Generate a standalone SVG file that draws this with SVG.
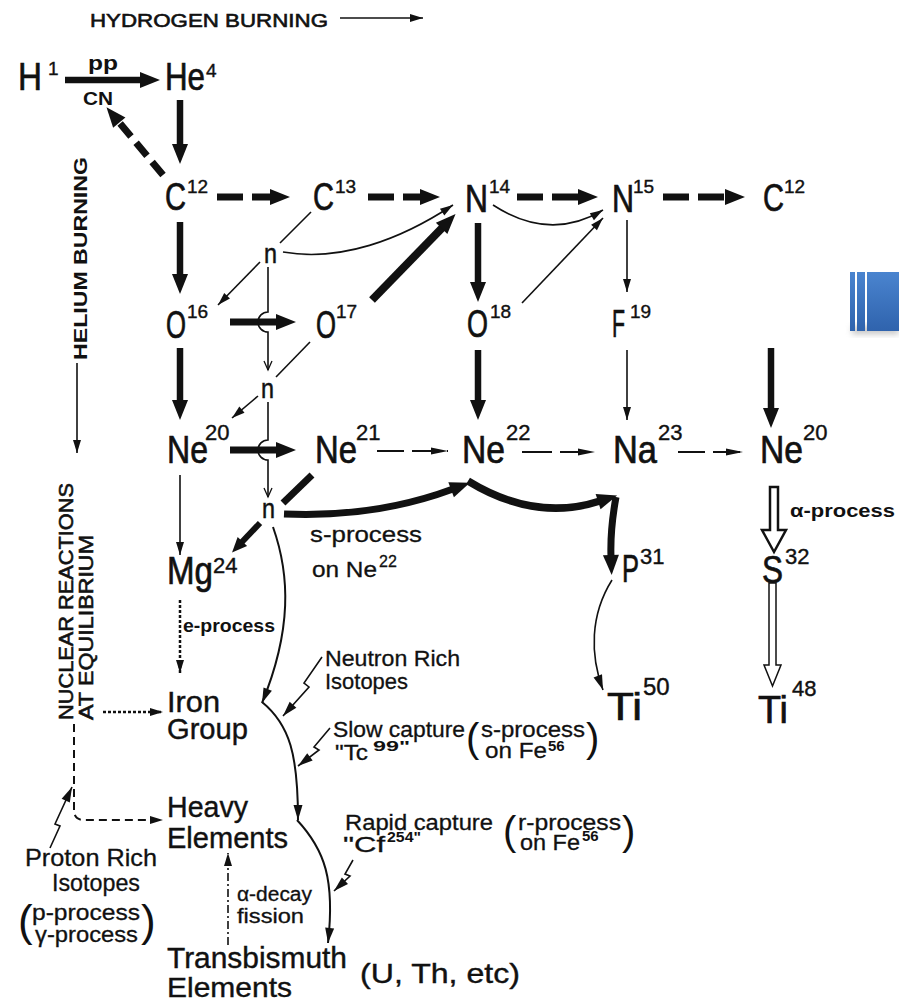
<svg xmlns="http://www.w3.org/2000/svg" width="899" height="1003" viewBox="0 0 899 1003">
<style>
text{font-family:"Liberation Sans","DejaVu Sans",Arial,sans-serif;fill:#111}
.el{font-size:38px;stroke:#111;stroke-width:0.7}
.sup{font-size:19px;stroke:#111;stroke-width:0.4}
.sup2{font-size:22px;stroke:#111;stroke-width:0.4}
.nn{font-size:27px;stroke:#111;stroke-width:0.5}
.cap{font-size:19px;font-weight:bold}
.lab{font-size:22px;stroke:#111;stroke-width:0.3}
.big{font-size:29px;stroke:#111;stroke-width:0.4}
.sm{font-size:15px;font-weight:bold}
.par{font-size:40px}
.thk{fill:none;stroke:#111;stroke-width:6.5}
.thn{fill:none;stroke:#111;stroke-width:1.6}
.md{fill:none;stroke:#111;stroke-width:2}
.dsh{fill:none;stroke:#111;stroke-width:7;stroke-dasharray:26 9}
.dthn{fill:none;stroke:#111;stroke-width:1.8;stroke-dasharray:27 8}
.hol{fill:#fff;stroke:#111;stroke-linejoin:miter}
</style>
<defs>
<marker id="aT" markerUnits="userSpaceOnUse" markerWidth="20" markerHeight="16" refX="2" refY="8" orient="auto" overflow="visible"><path d="M0,0 L20,8 L0,16 z" fill="#111"/></marker>
<marker id="aM" markerUnits="userSpaceOnUse" markerWidth="15" markerHeight="13" refX="2" refY="6.5" orient="auto" overflow="visible"><path d="M0,0 L15,6.5 L0,13 z" fill="#111"/></marker>
<marker id="aS" markerUnits="userSpaceOnUse" markerWidth="13" markerHeight="8" refX="13" refY="4" orient="auto" overflow="visible"><path d="M0,0 L13,4 L0,8 z" fill="#111"/></marker>
<marker id="aD" markerUnits="userSpaceOnUse" markerWidth="17" markerHeight="7" refX="17" refY="3.5" orient="auto" overflow="visible"><path d="M0,0 L17,3.5 L0,7 z" fill="#111"/></marker>
<marker id="aC" markerUnits="userSpaceOnUse" markerWidth="15" markerHeight="9" refX="15" refY="4.5" orient="auto" overflow="visible"><path d="M0,0 L15,4.5 L0,9 z" fill="#111"/></marker>
<marker id="aO" markerUnits="userSpaceOnUse" markerWidth="10" markerHeight="9" refX="9" refY="4.5" orient="auto" overflow="visible"><path d="M0,0.5 L9,4.5 L0,8.5" fill="none" stroke="#111" stroke-width="1.3"/></marker>
<linearGradient id="bg" x1="0" y1="0" x2="0" y2="1"><stop offset="0" stop-color="#4a84cf"/><stop offset="1" stop-color="#2f63ad"/></linearGradient>
<filter id="sh" x="-20%" y="-50%" width="140%" height="200%"><feGaussianBlur stdDeviation="3"/></filter>
</defs>

<!-- decoration -->
<g id="decor">
<rect x="852" y="326" width="47" height="8" fill="#888" opacity="0.5" filter="url(#sh)"/>
<rect x="850" y="272" width="5" height="59" fill="url(#bg)"/>
<rect x="857" y="272" width="8" height="59" fill="url(#bg)"/>
<rect x="867" y="272" width="32" height="59" fill="url(#bg)"/>
</g>

<!-- captions -->
<g id="captions">
<text x="90" y="27" class="cap" style="font-weight:normal;stroke:#111;stroke-width:0.6" textLength="238" lengthAdjust="spacingAndGlyphs">HYDROGEN  BURNING</text>
<text transform="translate(87,360) rotate(-90)" class="cap" textLength="203" lengthAdjust="spacingAndGlyphs">HELIUM  BURNING</text>
<text transform="translate(73,720) rotate(-90)" class="cap" style="font-size:21px;font-weight:normal;stroke:#111;stroke-width:0.6" textLength="237" lengthAdjust="spacingAndGlyphs">NUCLEAR REACTIONS</text>
<text transform="translate(93,720) rotate(-90)" class="cap" style="font-size:21px;font-weight:normal;stroke:#111;stroke-width:0.6" textLength="185" lengthAdjust="spacingAndGlyphs">AT EQUILIBRIUM</text>
</g>

<!-- nodes -->
<g id="n-H1"><text x="18" y="90" class="el" textLength="24" lengthAdjust="spacingAndGlyphs">H</text><text x="48" y="75" class="sup">1</text></g>
<g id="n-He4"><text x="165" y="90" class="el" textLength="40" lengthAdjust="spacingAndGlyphs">He</text><text x="206" y="77" class="sup">4</text></g>
<g id="n-C12"><text x="165" y="210" class="el" textLength="21" lengthAdjust="spacingAndGlyphs">C</text><text x="187" y="193" class="sup">12</text></g>
<g id="n-C13"><text x="313" y="210" class="el" textLength="21" lengthAdjust="spacingAndGlyphs">C</text><text x="335" y="193" class="sup">13</text></g>
<g id="n-N14"><text x="465" y="212" class="el" textLength="23" lengthAdjust="spacingAndGlyphs">N</text><text x="489" y="193" class="sup">14</text></g>
<g id="n-N15"><text x="612" y="212" class="el" textLength="22" lengthAdjust="spacingAndGlyphs">N</text><text x="633" y="193" class="sup">15</text></g>
<g id="n-C12b"><text x="763" y="211" class="el" textLength="21" lengthAdjust="spacingAndGlyphs">C</text><text x="784" y="193" class="sup">12</text></g>
<g id="n-O16"><text x="166" y="338" class="el" textLength="20" lengthAdjust="spacingAndGlyphs">O</text><text x="187" y="318" class="sup">16</text></g>
<g id="n-O17"><text x="316" y="338" class="el" textLength="20" lengthAdjust="spacingAndGlyphs">O</text><text x="336" y="318" class="sup">17</text></g>
<g id="n-O18"><text x="467" y="337" class="el" textLength="21" lengthAdjust="spacingAndGlyphs">O</text><text x="490" y="318" class="sup">18</text></g>
<g id="n-F19"><text x="612" y="337" class="el" textLength="13" lengthAdjust="spacingAndGlyphs">F</text><text x="630" y="318" class="sup">19</text></g>
<g id="n-n1"><text x="264" y="263" class="nn" textLength="13" lengthAdjust="spacingAndGlyphs">n</text></g>
<g id="n-n2"><text x="261" y="398" class="nn" textLength="13" lengthAdjust="spacingAndGlyphs">n</text></g>
<g id="n-n3"><text x="262" y="518" class="nn" textLength="13" lengthAdjust="spacingAndGlyphs">n</text></g>
<g id="n-Ne20"><text x="167" y="463" class="el" textLength="41" lengthAdjust="spacingAndGlyphs">Ne</text><text x="205" y="440" class="sup2">20</text></g>
<g id="n-Ne21"><text x="315" y="463" class="el" textLength="42" lengthAdjust="spacingAndGlyphs">Ne</text><text x="356" y="440" class="sup2">21</text></g>
<g id="n-Ne22"><text x="462" y="463" class="el" textLength="43" lengthAdjust="spacingAndGlyphs">Ne</text><text x="506" y="440" class="sup2">22</text></g>
<g id="n-Na23"><text x="613" y="463" class="el" textLength="44" lengthAdjust="spacingAndGlyphs">Na</text><text x="658" y="440" class="sup2">23</text></g>
<g id="n-Ne20b"><text x="760" y="463" class="el" textLength="43" lengthAdjust="spacingAndGlyphs">Ne</text><text x="803" y="440" class="sup2">20</text></g>
<g id="n-Mg24"><text x="167" y="584" class="el" textLength="46" lengthAdjust="spacingAndGlyphs">Mg</text><text x="213" y="573" class="sup2">24</text></g>
<g id="n-P31"><text x="622" y="582" class="el" textLength="17" lengthAdjust="spacingAndGlyphs">P</text><text x="640" y="564" class="sup2">31</text></g>
<g id="n-S32"><text x="762" y="583" class="el" textLength="21" lengthAdjust="spacingAndGlyphs">S</text><text x="785" y="564" class="sup2">32</text></g>
<g id="n-Ti50"><text x="607" y="720" class="el" textLength="35" lengthAdjust="spacingAndGlyphs">Ti</text><text x="643" y="695" class="sup2" style="font-size:24px">50</text></g>
<g id="n-Ti48"><text x="758" y="723" class="el" textLength="30" lengthAdjust="spacingAndGlyphs">Ti</text><text x="792" y="696" class="sup2">48</text></g>
<g id="n-Iron"><text x="167" y="712" class="big" textLength="53" lengthAdjust="spacingAndGlyphs">Iron</text><text x="167" y="739" class="big" textLength="81" lengthAdjust="spacingAndGlyphs">Group</text></g>
<g id="n-Heavy"><text x="167" y="817" class="big" textLength="81" lengthAdjust="spacingAndGlyphs">Heavy</text><text x="167" y="848" class="big" textLength="121" lengthAdjust="spacingAndGlyphs">Elements</text></g>
<g id="n-Trans"><text x="167" y="968" class="big" textLength="180" lengthAdjust="spacingAndGlyphs">Transbismuth</text><text x="167" y="997" class="big" style="font-size:28px" textLength="125" lengthAdjust="spacingAndGlyphs">Elements</text><text x="360" y="983" class="big" style="font-size:28px" textLength="160" lengthAdjust="spacingAndGlyphs">(U, Th, etc)</text></g>

<!-- labels -->
<g id="labels">
<text x="88" y="70" style="font-size:20px;font-weight:bold" textLength="30" lengthAdjust="spacingAndGlyphs">pp</text>
<text x="83" y="105" style="font-size:18px;font-weight:bold" textLength="30" lengthAdjust="spacingAndGlyphs">CN</text>
<text x="310" y="542" class="lab" textLength="112" lengthAdjust="spacingAndGlyphs">s-process</text>
<text x="312" y="577" class="lab" textLength="65" lengthAdjust="spacingAndGlyphs">on Ne</text>
<text x="379" y="567" style="font-size:16px;stroke:#111;stroke-width:0.3">22</text>
<text x="183" y="632" style="font-size:18px;font-weight:bold" textLength="92" lengthAdjust="spacingAndGlyphs">e-process</text>
<text x="790" y="517" style="font-size:18px;font-weight:bold" textLength="105" lengthAdjust="spacingAndGlyphs">α-process</text>
<text x="325" y="666" class="lab" textLength="135" lengthAdjust="spacingAndGlyphs">Neutron Rich</text>
<text x="325" y="689" class="lab" textLength="83" lengthAdjust="spacingAndGlyphs">Isotopes</text>
<text x="333" y="737" class="lab" textLength="132" lengthAdjust="spacingAndGlyphs">Slow capture</text>
<text x="466" y="752" class="par">(</text>
<text x="481" y="737" class="lab" textLength="104" lengthAdjust="spacingAndGlyphs">s-process</text>
<text x="586" y="752" class="par">)</text>
<text x="335" y="760" class="lab" textLength="33" lengthAdjust="spacingAndGlyphs">"Tc</text>
<text x="373" y="751" class="sm" textLength="37" lengthAdjust="spacingAndGlyphs">99"</text>
<text x="485" y="758" class="lab" textLength="62" lengthAdjust="spacingAndGlyphs">on Fe</text>
<text x="548" y="751" class="sm">56</text>
<text x="345" y="830" class="lab" textLength="148" lengthAdjust="spacingAndGlyphs">Rapid capture</text>
<text x="503" y="845" class="par">(</text>
<text x="518" y="830" class="lab" textLength="103" lengthAdjust="spacingAndGlyphs">r-process</text>
<text x="622" y="845" class="par">)</text>
<text x="343" y="852" class="lab" textLength="42" lengthAdjust="spacingAndGlyphs">"Cf</text>
<text x="387" y="842" class="sm" textLength="34" lengthAdjust="spacingAndGlyphs">254"</text>
<text x="520" y="850" class="lab" textLength="60" lengthAdjust="spacingAndGlyphs">on Fe</text>
<text x="582" y="841" class="sm">56</text>
<text x="237" y="901" style="font-size:20px;stroke:#111;stroke-width:0.3" textLength="75" lengthAdjust="spacingAndGlyphs">α-decay</text>
<text x="237" y="923" style="font-size:20px;stroke:#111;stroke-width:0.3" textLength="67" lengthAdjust="spacingAndGlyphs">fission</text>
<text x="25" y="866" style="font-size:24px;stroke:#111;stroke-width:0.3" textLength="132" lengthAdjust="spacingAndGlyphs">Proton Rich</text>
<text x="52" y="891" style="font-size:24px;stroke:#111;stroke-width:0.3" textLength="88" lengthAdjust="spacingAndGlyphs">Isotopes</text>
<text x="18" y="936" class="par" style="font-size:44px">(</text>
<text x="32" y="920" class="lab" textLength="108" lengthAdjust="spacingAndGlyphs">p-process</text>
<text x="35" y="942" class="lab" textLength="103" lengthAdjust="spacingAndGlyphs">γ-process</text>
<text x="141" y="936" class="par" style="font-size:44px">)</text>
</g>

<!-- connectors -->
<g id="connectors">
<path d="M340,18 H423" class="thn" marker-end="url(#aS)"/>
<path d="M77,363 V453" class="thn" marker-end="url(#aS)"/>
<path d="M65,80 H142" class="thk" marker-end="url(#aT)"/>
<path d="M180,100 V146" class="thk" marker-end="url(#aT)"/>
<path d="M163,175 L118,121" class="dsh" style="stroke-dasharray:17 8" marker-end="url(#aT)"/>
<path d="M217,197 H272" class="dsh" marker-end="url(#aT)"/>
<path d="M368,197 H422" class="dsh" marker-end="url(#aT)"/>
<path d="M517,197 H580" class="dsh" marker-end="url(#aT)"/>
<path d="M663,197 H727" class="dsh" marker-end="url(#aT)"/>
<path d="M180,222 V276" class="thk" marker-end="url(#aT)"/>
<path d="M180,348 V402" class="thk" marker-end="url(#aT)"/>
<path d="M478,223 V284" class="thk" marker-end="url(#aT)"/>
<path d="M478,350 V402" class="thk" marker-end="url(#aT)"/>
<path d="M771,348 V410" class="thk" marker-end="url(#aT)"/>
<path d="M627,220 V292" class="thn" marker-end="url(#aS)"/>
<path d="M627,350 V420" class="thn" marker-end="url(#aS)"/>
<path d="M230,322 H278" class="thk" style="stroke-width:7" marker-end="url(#aT)"/>
<path d="M230,450 H278" class="thk" style="stroke-width:7" marker-end="url(#aT)"/>
<path d="M268,267 V312 A10,10 0 0 0 268,332 V370" class="thn" marker-end="url(#aO)"/>
<path d="M268,402 V440 A10,10 0 0 0 268,460 V497" class="thn" marker-end="url(#aO)"/>
<path d="M280,243 L311,212" class="thn"/>
<path d="M283,252 C340,262 400,240 453,205" class="thn" marker-end="url(#aS)"/>
<path d="M260,262 L218,305" class="thn" marker-end="url(#aS)"/>
<path d="M372,300 L443,227" class="thk" style="stroke-width:8" marker-end="url(#aT)"/>
<path d="M493,205 Q550,242 603,210" class="thn" marker-end="url(#aS)"/>
<path d="M522,303 L603,218" class="thn" marker-end="url(#aS)"/>
<path d="M310,342 L276,377" class="thn"/>
<path d="M258,396 L232,418" class="thn" marker-end="url(#aS)"/>
<path d="M377,451 H448" class="dthn" marker-end="url(#aD)"/>
<path d="M522,452 H595" class="dthn" style="stroke-dasharray:30 8" marker-end="url(#aD)"/>
<path d="M678,452 H743" class="dthn" style="stroke-dasharray:27 8" marker-end="url(#aD)"/>
<path d="M312,475 L283,503" class="thk" style="stroke-width:7"/>
<path d="M260,523 L241,543" class="thk" style="stroke-width:6" marker-end="url(#aM)"/>
<path d="M284,514 Q375,518 453,489" class="thk" style="stroke-width:7" marker-end="url(#aT)"/>
<path d="M468,481 Q535,522 600,501" class="thk" style="stroke-width:7.5" marker-end="url(#aT)"/>
<path d="M616,497 Q610,530 611,557" class="thk" style="stroke-width:7" marker-end="url(#aT)"/>
<path d="M612,580 C590,615 590,655 603,690" class="thn" marker-end="url(#aC)"/>
<path d="M770,487 H778 V530 H786 L774,552 L762,530 H770 Z" class="hol" style="stroke-width:2.5"/>
<path d="M769,583 H776 V665 H781 L772.5,686 L764,665 H769 Z" class="hol" style="stroke-width:1.5"/>
<path d="M180,475 V555" class="thn" marker-end="url(#aS)"/>
<path d="M180,600 V673" class="md" style="stroke-width:2.5;stroke-dasharray:3 2" marker-end="url(#aS)"/>
<path d="M103,712 H163" class="md" style="stroke-width:2.5;stroke-dasharray:3 2" marker-end="url(#aS)"/>
<path d="M74,724 V810 Q74,820 84,820 H163" class="md" style="stroke-dasharray:8 5" marker-end="url(#aS)"/>
<path d="M228,945 V853" class="thn" style="stroke-dasharray:8 3 2 3" marker-end="url(#aS)"/>
<path d="M273,527 C290,575 292,630 262,703" class="md" marker-end="url(#aC)"/>
<path d="M262,702 C290,725 298,755 298,820" class="md" marker-end="url(#aC)"/>
<path d="M297,820 C325,850 335,880 328,943" class="md" marker-end="url(#aC)"/>
<path d="M322,657 L304,683 L309,687 L283,716" class="thn" marker-end="url(#aC)"/>
<path d="M330,728 L314,747 L319,750 L298,766" class="thn" marker-end="url(#aC)"/>
<path d="M353,860 L345,874 L350,876 L334,891" class="thn" marker-end="url(#aC)"/>
<path d="M50,848 L60,826 L55,824 L72,787" class="thn" marker-end="url(#aC)"/>
</g>
</svg>
